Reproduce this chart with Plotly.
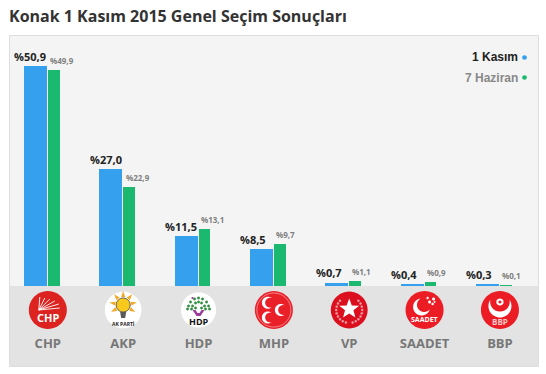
import math
import plotly.graph_objects as go

categories = ["CHP", "AKP", "HDP", "MHP", "VP", "SAADET", "BBP"]
kasim = [50.9, 27.0, 11.5, 8.5, 0.7, 0.4, 0.3]
haziran = [49.9, 22.9, 13.1, 9.7, 1.1, 0.9, 0.1]
title = "Konak 1 Kasım 2015 Genel Seçim Sonuçları"
series_names = ["1 Kasım", "7 Haziran"]

BLUE = "#34a0ee"
GREEN = "#1bb96f"
positions = list(range(len(categories)))
fmt = lambda v: "%" + f"{v:.1f}".replace(".", ",")

shapes, annotations = [], []
CY = 24.0  # logo centre, pixels below the baseline
PLOT_W, PLOT_H = 528, 250


def poly(pts, close=True):
    return "M" + "L".join(f"{x:.2f},{-CY - y:.2f}" for x, y in pts) + ("Z" if close else "")


def circ(cx, cy, r, n=48):
    return poly([(cx + r * math.cos(2 * math.pi * k / n), cy + r * math.sin(2 * math.pi * k / n)) for k in range(n)])


def crescent(cx, cy, R, r, d, theta, n=32):
    t = math.radians(theta)
    phi = math.acos((R * R + d * d - r * r) / (2 * R * d))
    psi = math.atan2(R * math.sin(phi), R * math.cos(phi) - d)
    pts = []
    for k in range(n + 1):
        a = phi + (2 * math.pi - 2 * phi) * k / n
        pts.append((R * math.cos(a), R * math.sin(a)))
    for k in range(n + 1):
        a = (2 * math.pi - psi) - (2 * math.pi - 2 * psi) * k / n
        pts.append((d + r * math.cos(a), r * math.sin(a)))
    return poly([(cx + x * math.cos(t) - y * math.sin(t), cy + x * math.sin(t) + y * math.cos(t)) for x, y in pts])


def star(cx, cy, R, r=None, n=5):
    r = r or R * 0.42
    return poly([(cx + (R if k % 2 == 0 else r) * math.sin(math.pi * k / n),
                  cy - (R if k % 2 == 0 else r) * math.cos(math.pi * k / n)) for k in range(2 * n)])


def add(i, path, fill=None, line=None, lw=0):
    shapes.append(dict(type="path", xref="x", yref="paper", xsizemode="pixel", ysizemode="pixel",
                       xanchor=i, yanchor=0, path=path, fillcolor=fill or "rgba(0,0,0,0)",
                       line=dict(color=line or "rgba(0,0,0,0)", width=lw), layer="above"))


def logo_text(i, text, dy, size, color, dx=0):
    annotations.append(dict(x=i, y=0, xref="x", yref="paper", text=f"<b>{text}</b>", showarrow=False,
                            yanchor="middle", xanchor="center", xshift=dx, yshift=-(CY + dy),
                            font=dict(family="Open Sans", size=size, color=color)))


# CHP
add(0, circ(0, 0, 19), "#dc2320")
for ex, ey in [(-8, -13), (-3, -12), (2, -11), (7, -9), (11, -6), (12, -2)]:
    add(0, poly([(-9, 0), (ex, ey)], close=False), None, "#ffffff", 0.9)
logo_text(0, "CHP", 7.5, 11, "#ffffff")
# AKP
add(1, circ(0, 0, 18.3), "#ffffff")
for a in range(-120, 121, 40):
    ra = math.radians(a)
    s, c = math.sin(ra), math.cos(ra)
    add(1, poly([(-2 * c + 8 * s, -5 - 8 * c - 2 * s), (2 * c + 8 * s, -5 - 8 * c + 2 * s), (14 * s, -5 - 14 * c)]), "#f5a623")
add(1, circ(0, -5, 7), "#f8c81c", "#56534c", 1)
add(1, poly([(-3, 2), (3, 2), (2, 8), (-2, 8)]), "#5a5a5a")
logo_text(1, "AK PARTİ", 13.5, 5, "#222222")
# HDP
add(2, circ(0, 0, 17.6), "#ffffff")
for x, y in [(-10, -4), (-8, -8), (-4, -11), (0, -12), (4, -11), (8, -8), (10, -4), (-6, -4), (-3, -7),
             (3, -7), (6, -4), (-7, -1), (7, -1), (0, -8), (-3, -2), (3, -2), (-11, -1), (11, -1)]:
    add(2, circ(x, y, 1.4, 12), "#2f8f3f")
add(2, circ(-6, -12, 1.1, 10), "#a43f9f")
add(2, poly([(-6, 0), (-3, 0), (-1, 3), (1, 3), (3, 0), (6, 0), (2, 6), (-2, 6)]), "#9a3d9c")
logo_text(2, "HDP", 11, 9, "#111111")
# MHP
add(3, circ(0, 0, 19), "#ea2029")
add(3, circ(0, 0, 17), None, "#f7a0a3", 0.8)
for x, y in [(-6, -7.3), (7, 0), (-6, 7.5)]:
    add(3, crescent(x, y, 6, 4.9, 2.2, 0), "#ffffff")
# VP
add(4, circ(0, 0, 18.4), "#dc0f1e")
for sign in (-1, 1):
    for a in range(-75, 50, 15):
        ra = math.radians(a)
        add(4, circ(sign * 13 * math.cos(ra), -13 * math.sin(ra), 1.3, 10), "#e89aa0")
add(4, star(0, -1, 10.5), "#ffffff")
# SAADET
add(5, circ(0, 0, 19), "#ec1c24")
add(5, crescent(-3, -3, 8.5, 7.2, 3.4, -40), "#ffffff")
for x, y, s in [(5, -8, 1.5), (9, -11, 1.5), (3, -12, 1.2), (8, -6, 1.3), (10, -8, 1)]:
    add(5, circ(x, y, s, 10), "#ffffff")
logo_text(5, "SAADET", 9.5, 7, "#ffffff")
# BBP
add(6, circ(0, 0, 19), "#ec1c24")
add(6, crescent(0, -4, 11.5, 9.8, 4.2, -90), "#ffffff")
add(6, circ(0, -8, 3.6, 16), "#ffffff")
add(6, circ(0, -8, 1.5, 12), "#ec1c24")
logo_text(6, "BBP", 11, 8, "#f8c8c8")

# grey band under the baseline and the panel border
shapes.insert(0, dict(type="rect", xref="paper", yref="paper", x0=0, x1=1, y0=-80 / PLOT_H, y1=0,
                      fillcolor="#e3e3e3", line=dict(width=0), layer="below"))
shapes.append(dict(type="rect", xref="paper", yref="paper", x0=-0.5 / PLOT_W, x1=1 + 0.5 / PLOT_W,
                   y0=-80.5 / PLOT_H, y1=1 + 0.5 / PLOT_H, fillcolor="rgba(0,0,0,0)",
                   line=dict(color="#dddddd", width=1), layer="above"))

fig = go.Figure()
fig.add_bar(x=positions, y=kasim, name=series_names[0], marker=dict(color=BLUE, line=dict(width=0)),
            width=0.305, offset=-0.316)
fig.add_bar(x=positions, y=haziran, name=series_names[1], marker=dict(color=GREEN, line=dict(width=0)),
            width=0.153, offset=0.003)

for i, (a, b) in enumerate(zip(kasim, haziran)):
    annotations.append(dict(x=i, y=a, text=f"<b>{fmt(a)}</b>", showarrow=False, xanchor="left", yanchor="middle",
                            xshift=-35.5, yshift=10, font=dict(family="Open Sans", size=11, color="#222222")))
    annotations.append(dict(x=i, y=b, text=f"<b>{fmt(b)}</b>", showarrow=False, xanchor="left", yanchor="middle",
                            xshift=0.5, yshift=10, font=dict(family="Open Sans", size=8, color="#808080")))

# legend: text to the left of its dot
for name, color, tc, dy in [(series_names[0], BLUE, "#222222", 21.5), (series_names[1], GREEN, "#888888", 41.5)]:
    annotations.append(dict(x=(519.5 - 10) / PLOT_W, y=(PLOT_H - dy) / PLOT_H, xref="paper", yref="paper",
                            text=f"<b>{name}</b>", showarrow=False, xanchor="right", yanchor="middle",
                            font=dict(family="Liberation Sans", size=12, color=tc)))
    shapes.append(dict(type="path", xref="paper", yref="paper", xsizemode="pixel", ysizemode="pixel",
                       xanchor=(524.5 - 10) / PLOT_W, yanchor=(PLOT_H - dy) / PLOT_H,
                       path="M" + "L".join(f"{2.3 * math.cos(k * math.pi / 8):.2f},{2.3 * math.sin(k * math.pi / 8):.2f}" for k in range(16)) + "Z",
                       fillcolor=color, line=dict(width=0)))

fig.update_layout(
    width=546, height=374, autosize=False,
    margin=dict(l=10, r=8, t=36, b=88, pad=0),
    paper_bgcolor="#ffffff", plot_bgcolor="#f4f4f4",
    showlegend=False, barmode="overlay", bargap=0,
    title=dict(text=f"<b>{title}</b>", x=9 / 546, xanchor="left", xref="container", y=1 - 16 / 374, yref="container",
               yanchor="middle", font=dict(family="Open Sans", size=16, color="#333333")),
    xaxis=dict(range=[-0.5017, 6.505], tickmode="array", tickvals=positions, ticktext=categories,
               showgrid=False, zeroline=False, showline=False, ticks="", ticklabelstandoff=48,
               tickfont=dict(family="Open Sans", size=13, color="#777777", weight=700)),
    yaxis=dict(range=[0, 57.87], visible=False, showgrid=False, zeroline=False),
    shapes=shapes, annotations=annotations,
)
fig.write_html("out.html", config=dict(displayModeBar=False, responsive=False),
               post_script="document.body.style.margin='0';document.body.style.overflow='hidden';")
